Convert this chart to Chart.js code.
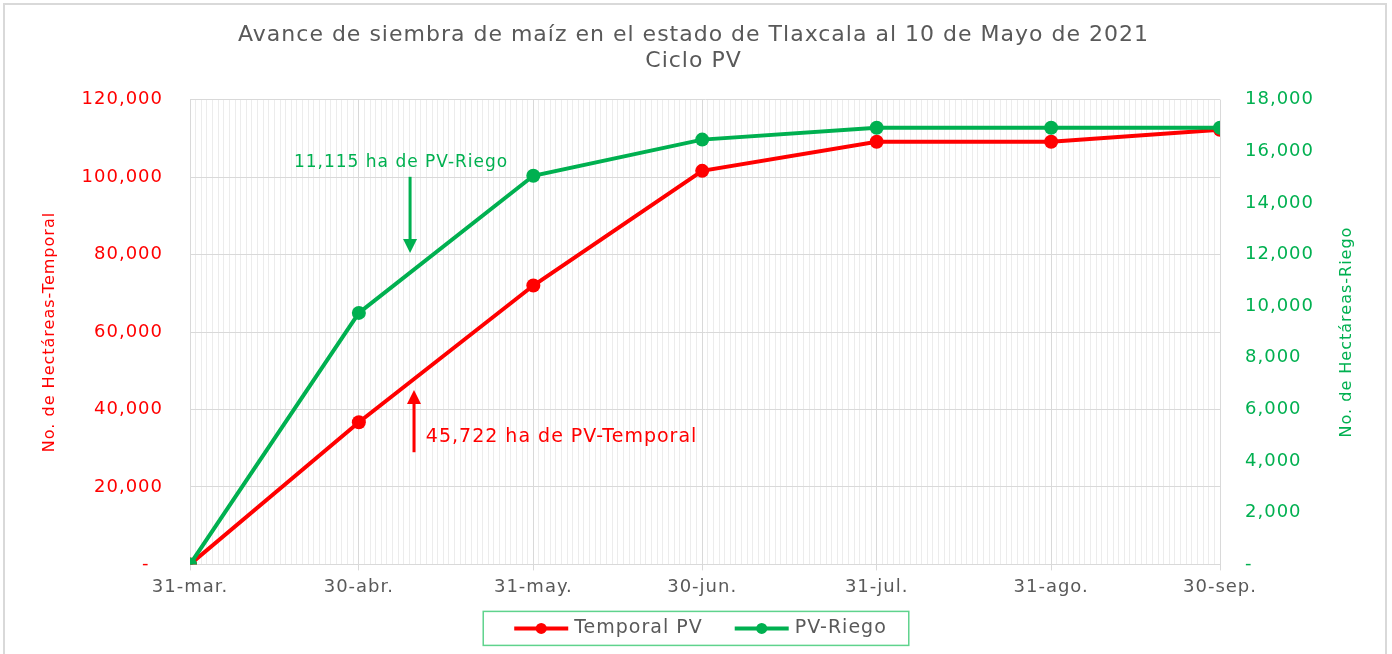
<!DOCTYPE html>
<html>
<head>
<meta charset="utf-8">
<script src="https://cdn.jsdelivr.net/npm/chart.js@4.4.0/dist/chart.umd.min.js"></script>
<style>
	body { margin: 0; background: #fff; overflow: hidden; }
	#marco { position: absolute; left: 3px; top: 3px; width: 1380px; height: 700px; border: 2px solid #d9d9d9; }
	#caja { position: absolute; left: 0; top: 0; width: 1392px; height: 654px; }
</style>
</head>
<body>
<div id="marco"></div>
<div id="caja"><canvas id="avance"></canvas></div>
<script>
	// fechas de corte (dias contados desde el 31 de marzo)
	var fechas = ["31-mar.", "30-abr.", "31-may.", "30-jun.", "31-jul.", "31-ago.", "30-sep."];
	var dias = [0, 30, 61, 91, 122, 153, 183];
	// hectareas sembradas
	var temporal = [0, 36700, 72000, 101600, 109100, 109100, 112200];
	var riego = [0, 9740, 15050, 16450, 16910, 16910, 16910];
	var ticksTemporal = [0, 20000, 40000, 60000, 80000, 100000, 120000];
	var ticksRiego = [0, 2000, 4000, 6000, 8000, 10000, 12000, 14000, 16000, 18000];
	var series = ["Temporal PV", "PV-Riego"];

	var ROJO = "#ff0000";
	var VERDE = "#00b050";
	var GRIS = "#595959";
	var FUENTE = "'DejaVu Sans', sans-serif";

	function puntos(valores)
	{
		return valores.map(function(v, i) { return {x: dias[i], y: v}; });
	}

	function formato(v)
	{
		if (v == 0) return "-  ";
		return v.toLocaleString("en-US");
	}

	var notas = [
		{texto: "11,115 ha de PV-Riego", color: VERDE, eje: "yR", size: 17, x: 37.5, y: 15550, align: "center", flechaX: 39.1, desde: 15010, hasta: 12060},
		{texto: "45,722 ha de PV-Temporal", color: ROJO, eje: "yT", size: 19, x: 41.9, y: 32840, align: "left", flechaX: 39.8, desde: 28960, hasta: 45000}
	];

	// espaciado de letras parecido al original
	var pluginEspaciado =
	{
		id: "espaciado",
		beforeUpdate: function(chart) { chart.ctx.letterSpacing = "1px"; },
		beforeDraw: function(chart) { chart.ctx.letterSpacing = "1px"; }
	};

	var pluginNotas =
	{
		id: "notas",
		afterDatasetsDraw: function(chart)
		{
			var ctx = chart.ctx;
			var sx = chart.scales.x;
			notas.forEach(function(n)
			{
				var sy = chart.scales[n.eje];
				ctx.save();
				ctx.fillStyle = n.color;
				ctx.strokeStyle = n.color;
				ctx.font = n.size + "px " + FUENTE;
				ctx.textAlign = n.align;
				ctx.textBaseline = "middle";
				ctx.fillText(n.texto, sx.getPixelForValue(n.x), sy.getPixelForValue(n.y));
				var ax = sx.getPixelForValue(n.flechaX);
				var y0 = sy.getPixelForValue(n.desde);
				var y1 = sy.getPixelForValue(n.hasta);
				var dir = y1 > y0 ? 1 : -1;
				ctx.lineWidth = 3;
				ctx.beginPath();
				ctx.moveTo(ax, y0);
				ctx.lineTo(ax, y1 - dir * 12);
				ctx.stroke();
				ctx.beginPath();
				ctx.moveTo(ax, y1);
				ctx.lineTo(ax - 7, y1 - dir * 14);
				ctx.lineTo(ax + 7, y1 - dir * 14);
				ctx.closePath();
				ctx.fill();
				ctx.restore();
			});
		}
	};

	// titulo del eje derecho leido de abajo hacia arriba, y leyenda con recuadro
	var pluginExtras =
	{
		id: "extras",
		afterDraw: function(chart)
		{
			var ctx = chart.ctx;
			var area = chart.chartArea;
			var yR = chart.scales.yR;
			ctx.save();
			ctx.font = "16px " + FUENTE;
			ctx.fillStyle = VERDE;
			ctx.textAlign = "center";
			ctx.textBaseline = "middle";
			ctx.translate(yR.right - 20, (area.top + area.bottom) / 2);
			ctx.rotate(-Math.PI / 2);
			ctx.fillText("No. de Hectáreas-Riego", 0, 0);
			ctx.restore();

			ctx.save();
			ctx.font = "19px " + FUENTE;
			var colores = [ROJO, VERDE];
			var anchos = series.map(function(s) { return ctx.measureText(s).width; });
			var linea = 54, hueco = 6, entre = 32;
			var total = 31 + linea + hueco + anchos[0] + entre + linea + hueco + anchos[1] + 22;
			var x = chart.width / 2 - total / 2;
			var arriba = area.bottom + 47;
			var alto = 34;
			ctx.strokeStyle = "#5fd38d";
			ctx.lineWidth = 1.5;
			ctx.strokeRect(x, arriba, total, alto);
			var cy = arriba + alto / 2;
			x += 31;
			series.forEach(function(s, i)
			{
				ctx.strokeStyle = colores[i];
				ctx.fillStyle = colores[i];
				ctx.lineWidth = 4;
				ctx.beginPath();
				ctx.moveTo(x, cy);
				ctx.lineTo(x + linea, cy);
				ctx.stroke();
				ctx.beginPath();
				ctx.arc(x + linea / 2, cy, 5.5, 0, Math.PI * 2);
				ctx.fill();
				ctx.fillStyle = GRIS;
				ctx.textAlign = "left";
				ctx.textBaseline = "middle";
				ctx.fillText(s, x + linea + hueco, cy);
				x += linea + hueco + anchos[i] + entre;
			});
			ctx.restore();
		}
	};

	window.onload = () =>
	{
		var canvas = document.getElementById("avance");
		canvas.width = 1392;
		canvas.height = 654;
		var ctx = canvas.getContext("2d");
		var config =
		{
			type: "line",
			data:
			{
				datasets: [
				{
					label: series[0],
					data: puntos(temporal),
					yAxisID: "yT",
					order: 1,
					borderColor: ROJO,
					backgroundColor: ROJO,
					borderWidth: 4,
					pointRadius: 7,
					pointBorderWidth: 0,
					tension: 0
				},
				{
					label: series[1],
					data: puntos(riego),
					yAxisID: "yR",
					order: 0,
					borderColor: VERDE,
					backgroundColor: VERDE,
					borderWidth: 4,
					pointRadius: 7,
					pointBorderWidth: 0,
					tension: 0
				}]
			},
			options:
			{
				responsive: false,
				animation: false,
				layout: { padding: {left: 20, right: 25, top: 13, bottom: 50} },
				plugins:
				{
					title:
					{
						display: true,
						text: ["Avance de siembra de maíz en el estado de Tlaxcala al 10 de Mayo de 2021", "Ciclo PV"],
						color: GRIS,
						font: { family: FUENTE, size: 22, weight: "normal", lineHeight: 1.15 },
						padding: { top: 10, bottom: 26 }
					},
					legend: { display: false },
					tooltip: { enabled: false }
				},
				scales:
				{
					x:
					{
						type: "linear",
						min: dias[0],
						max: dias[dias.length - 1],
						grid:
						{
							color: function(c) { return dias.indexOf(c.tick.value) >= 0 ? "#d9d9d9" : "#ececec"; },
							tickColor: function(c) { return dias.indexOf(c.tick.value) >= 0 ? "#d9d9d9" : "rgba(0,0,0,0)"; },
							tickLength: 6
						},
						border: { color: "#d9d9d9" },
						ticks:
						{
							stepSize: 1,
							autoSkip: false,
							maxRotation: 0,
							minRotation: 0,
							padding: 6,
							color: GRIS,
							font: { family: FUENTE, size: 18 },
							callback: function(v)
							{
								var i = dias.indexOf(v);
								return i >= 0 ? fechas[i] : "";
							}
						}
					},
					yT:
					{
						position: "left",
						min: ticksTemporal[0],
						max: ticksTemporal[ticksTemporal.length - 1],
						afterFit: function(s) { s.width = 170; },
						grid: { color: "#d9d9d9", drawTicks: false },
						border: { color: "#d9d9d9" },
						ticks:
						{
							stepSize: 20000,
							padding: 27,
							color: ROJO,
							font: { family: FUENTE, size: 18 },
							callback: formato
						},
						title:
						{
							display: true,
							text: "No. de Hectáreas-Temporal",
							color: ROJO,
							font: { family: FUENTE, size: 16 },
							padding: { top: 20, bottom: 0 }
						}
					},
					yR:
					{
						position: "right",
						min: ticksRiego[0],
						max: ticksRiego[ticksRiego.length - 1],
						afterFit: function(s) { s.width = 147; },
						grid: { drawOnChartArea: false, drawTicks: false },
						border: { display: false },
						ticks:
						{
							stepSize: 2000,
							padding: 25,
							color: VERDE,
							font: { family: FUENTE, size: 18 },
							callback: formato
						}
					}
				}
			},
			plugins: [pluginEspaciado, pluginNotas, pluginExtras]
		};
		var chart = new Chart(ctx, config);
	}
</script>
</body>
</html>
